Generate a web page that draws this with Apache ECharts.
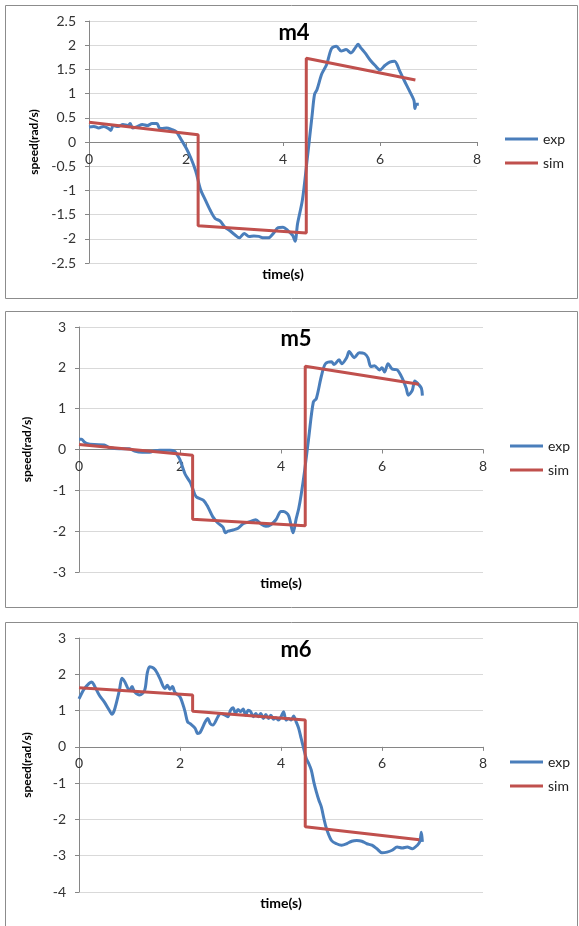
<!DOCTYPE html>
<html>
<head>
<meta charset="utf-8">
<script src="https://cdn.jsdelivr.net/npm/echarts@6/dist/echarts.min.js"></script>
<style>
html,body{margin:0;padding:0;background:#fff;}
#chart{width:579px;height:926px;}
</style>
</head>
<body>
<div id="chart"></div>
<script>
// ---- m4 ----
const m4ExpTime = [0,0.1,0.2,0.3,0.4,0.45,0.5,0.6,0.7,0.8,0.85,0.9,1.0,1.1,1.2,1.3,1.4,1.45,1.5,1.6,1.7,1.8,1.9,2.0,2.1,2.2,2.3,2.4,2.5,2.6,2.7,2.8,2.9,3.0,3.1,3.2,3.3,3.4,3.5,3.6,3.7,3.8,3.9,4.0,4.1,4.2,4.25,4.3,4.4,4.5,4.55,4.6,4.65,4.7,4.8,4.9,5.0,5.1,5.2,5.3,5.4,5.5,5.55,5.6,5.7,5.8,5.9,6.0,6.1,6.2,6.3,6.4,6.5,6.6,6.7,6.72,6.75,6.8];
const m4Exp = [0.31,0.32,0.29,0.32,0.28,0.24,0.34,0.32,0.36,0.34,0.38,0.29,0.32,0.36,0.34,0.38,0.38,0.29,0.28,0.29,0.26,0.21,0.05,-0.12,-0.33,-0.6,-0.98,-1.2,-1.41,-1.58,-1.63,-1.76,-1.83,-1.91,-1.98,-1.89,-1.95,-1.94,-1.95,-1.98,-1.98,-1.89,-1.77,-1.76,-1.83,-1.93,-2.05,-1.69,-1.2,-0.35,0.1,0.55,0.98,1.08,1.41,1.6,1.93,1.98,1.88,1.91,1.84,1.96,2.02,1.95,1.83,1.69,1.58,1.49,1.58,1.65,1.67,1.48,1.27,1.07,0.86,0.69,0.78,0.78];
const m4SimTime = [0,2.25,2.25,4.48,4.48,6.73];
const m4Sim = [0.41,0.15,-1.73,-1.88,1.73,1.28];
// ---- m5 ----
const m5ExpTime = [0,0.05,0.1,0.15,0.3,0.5,0.6,0.8,1.0,1.1,1.25,1.4,1.5,1.6,1.8,1.9,1.95,2.0,2.1,2.2,2.25,2.32,2.46,2.55,2.65,2.75,2.85,2.9,2.95,3.05,3.15,3.25,3.35,3.45,3.5,3.6,3.7,3.8,3.9,4.0,4.05,4.15,4.24,4.3,4.35,4.4,4.47,4.55,4.64,4.7,4.8,4.88,5.0,5.05,5.15,5.2,5.3,5.35,5.45,5.55,5.65,5.72,5.78,5.85,5.95,6.0,6.05,6.12,6.2,6.3,6.4,6.48,6.52,6.6,6.65,6.72,6.78,6.8];
const m5Exp = [0.25,0.25,0.19,0.15,0.12,0.11,0.05,0.02,0.02,-0.04,-0.07,-0.07,-0.03,-0.02,-0.02,-0.05,-0.14,-0.25,-0.6,-0.8,-0.95,-1.16,-1.24,-1.4,-1.65,-1.8,-1.9,-2.04,-2.0,-1.97,-1.93,-1.82,-1.78,-1.74,-1.72,-1.82,-1.88,-1.84,-1.72,-1.52,-1.52,-1.62,-2.04,-1.7,-1.45,-1.1,-0.5,0.3,1.16,1.25,1.8,2.1,2.15,2.08,2.2,2.1,2.25,2.4,2.25,2.37,2.35,2.25,2.03,2.05,1.95,2.0,1.9,2.1,1.97,1.95,1.75,1.5,1.33,1.45,1.68,1.6,1.5,1.32];
const m5SimTime = [0,2.25,2.25,4.48,4.48,6.73];
const m5Sim = [0.12,-0.14,-1.71,-1.87,2.04,1.6];
// ---- m6 ----
const m6ExpTime = [0,0.1,0.2,0.25,0.3,0.4,0.5,0.6,0.65,0.7,0.8,0.85,0.9,1.0,1.05,1.1,1.2,1.3,1.35,1.4,1.5,1.6,1.7,1.75,1.8,1.85,1.9,2.0,2.05,2.1,2.15,2.2,2.3,2.35,2.4,2.5,2.55,2.6,2.65,2.75,2.8,2.9,2.95,3.0,3.05,3.1,3.15,3.2,3.25,3.3,3.35,3.4,3.45,3.5,3.55,3.6,3.65,3.7,3.75,3.8,3.85,3.9,3.95,4.0,4.05,4.1,4.15,4.2,4.25,4.3,4.35,4.4,4.45,4.5,4.55,4.6,4.65,4.7,4.75,4.8,4.85,4.9,5.0,5.1,5.2,5.3,5.4,5.5,5.6,5.7,5.8,5.9,6.0,6.1,6.2,6.3,6.4,6.5,6.6,6.7,6.75,6.78,6.8];
const m6Exp = [1.32,1.59,1.75,1.79,1.70,1.43,1.24,1.01,0.90,1.01,1.56,1.89,1.81,1.56,1.66,1.52,1.43,1.56,2.02,2.21,2.14,1.89,1.61,1.70,1.59,1.66,1.50,1.38,1.20,0.97,0.69,0.64,0.51,0.37,0.40,0.69,0.78,0.64,0.60,0.83,0.92,0.87,0.83,1.01,1.08,0.92,1.03,0.97,1.04,0.87,1.01,0.97,0.83,0.92,0.83,0.92,0.78,0.89,0.78,0.87,0.76,0.80,0.74,0.83,0.97,0.74,0.78,0.74,0.85,0.69,0.51,0.23,-0.05,-0.32,-0.46,-0.64,-0.97,-1.24,-1.47,-1.66,-1.98,-2.25,-2.58,-2.67,-2.71,-2.67,-2.60,-2.58,-2.60,-2.67,-2.71,-2.81,-2.92,-2.90,-2.85,-2.76,-2.79,-2.76,-2.81,-2.71,-2.60,-2.35,-2.62];
const m6SimTime = [0,2.25,2.25,4.48,4.48,6.74];
const m6Sim = [1.63,1.43,0.98,0.74,-2.2,-2.56];

const titles = ['m4','m5','m6'];
const seriesNames = ['exp','sim'];
const xTicks = {min:0, max:8, interval:2};
const yRanges = [{min:-2.5,max:2.5,interval:0.5},{min:-3,max:3,interval:1},{min:-4,max:3,interval:1}];
const xName = 'time(s)';
const yName = 'speed(rad/s)';

const zip = (a,b) => a.map((v,i)=>[v,b[i]]);
const expSets = [[m4ExpTime,m4Exp],[m5ExpTime,m5Exp],[m6ExpTime,m6Exp]];
const simSets = [[m4SimTime,m4Sim],[m5SimTime,m5Sim],[m6SimTime,m6Sim]];

const FONT = 'Lato';
const grids = [
  {left:89, top:21, width:388, height:242},
  {left:79, top:327, width:404, height:245},
  {left:79, top:638, width:404, height:254}
];
const titlePos = [{x:289,y:17},{x:291,y:323},{x:291,y:634}];
const legendPos = [{left:500,top:127},{left:505,top:434},{left:505,top:750}];
const boxes = [{y:5,h:293},{y:311,h:296},{y:622,h:310}];

const option = {
  animation:false,
  backgroundColor:'#fff',
  textStyle:{fontFamily:FONT},
  title: titles.map((t,i)=>({text:t, left:titlePos[i].x, top:titlePos[i].y, textAlign:'center',
    textStyle:{fontFamily:FONT,fontSize:22,fontWeight:'bold',color:'#000'}})),
  legend: legendPos.map((p,i)=>({data:seriesNames.map(n=>({name:n, icon:'rect'})), orient:'vertical', left:p.left, top:p.top,
    itemWidth:33, itemHeight:3, itemGap:10, selectedMode:false,
    textStyle:{fontFamily:FONT,fontSize:14,color:'#222'}})),
  grid: grids.concat(grids),
  xAxis: [],
  yAxis: [],
  series: [],
  graphic: boxes.map(b=>({type:'rect', shape:{x:5.5,y:b.y+0.5,width:572,height:b.h},
    style:{fill:'none',stroke:'#8c8c8c',lineWidth:1}, silent:true}))
};

for (let i=0;i<3;i++){
  const yr = yRanges[i];
  const zeroFromBottom = grids[i].height * (0 - yr.min) / (yr.max - yr.min);
  option.xAxis.push({type:'value', gridIndex:i, min:xTicks.min, max:xTicks.max, interval:xTicks.interval,
    position:'bottom', offset:-zeroFromBottom,
    axisLine:{onZero:false, lineStyle:{color:'#868686',width:1}},
    axisTick:{show:true,length:4,lineStyle:{color:'#868686'}},
    axisLabel:{fontFamily:FONT,fontSize:14,color:'#333',margin:10},
    splitLine:{show:false}});
  option.yAxis.push({type:'value', gridIndex:i, min:yr.min, max:yr.max, interval:yr.interval,
    name:yName, nameLocation:'middle', nameGap:46, nameRotate:90,
    nameTextStyle:{fontFamily:FONT,fontSize:12,fontWeight:'bold',color:'#000'},
    axisLine:{show:true,onZero:false,lineStyle:{color:'#868686',width:1}},
    axisTick:{show:true,length:4,lineStyle:{color:'#868686'}},
    axisLabel:{fontFamily:FONT,fontSize:14,color:'#333',margin:13},
    splitLine:{show:true,lineStyle:{color:'#d9d9d9',width:1}}});
}
// extra bottom axes carrying the x-axis name
for (let i=0;i<3;i++){
  option.xAxis.push({type:'value', gridIndex:3+i, min:0, max:8, position:'bottom',
    name:xName, nameLocation:'middle', nameGap:4,
    nameTextStyle:{fontFamily:FONT,fontSize:14,fontWeight:'bold',color:'#000'},
    axisLine:{show:false}, axisTick:{show:false}, axisLabel:{show:false}, splitLine:{show:false}});
  option.yAxis.push({type:'value', gridIndex:3+i, show:false, min:0, max:1});
}
for (let i=0;i<3;i++){
  option.series.push({name:'exp', type:'line', xAxisIndex:i, yAxisIndex:i, data:zip(expSets[i][0],expSets[i][1]),
    symbol:'none', smooth:0.3, lineStyle:{color:'#4a7ebb',width:3}, itemStyle:{color:'#4a7ebb'}});
  option.series.push({name:'sim', type:'line', xAxisIndex:i, yAxisIndex:i, data:zip(simSets[i][0],simSets[i][1]),
    symbol:'none', lineStyle:{color:'#c0504d',width:3}, itemStyle:{color:'#c0504d'}});
}

const chart = echarts.init(document.getElementById('chart'), null, {renderer:'canvas'});
chart.setOption(option);
</script>
</body>
</html>
